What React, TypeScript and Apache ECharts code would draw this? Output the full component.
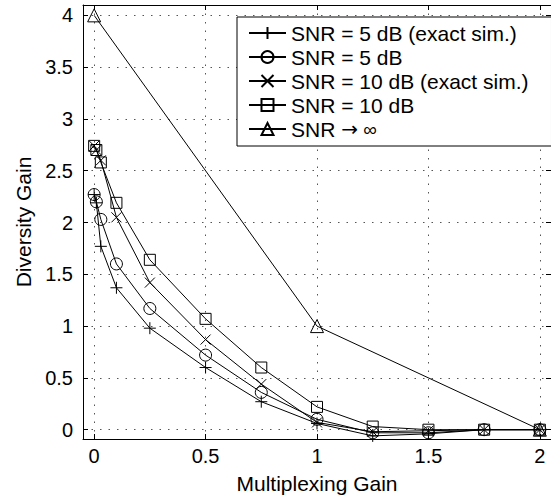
import React, { useEffect, useRef } from 'react';
import * as echarts from 'echarts';

const xPts = [0, 0.01, 0.03, 0.1, 0.25, 0.5, 0.75, 1, 1.25, 1.5, 1.75, 2];
const snr5Exact = [2.27, 2.19, 1.77, 1.37, 0.98, 0.6, 0.27, 0.06, -0.06, -0.04, 0.0, 0.0];
const snr5 = [2.27, 2.2, 2.03, 1.6, 1.17, 0.72, 0.36, 0.1, -0.03, -0.03, 0.0, 0.0];
const snr10Exact = [2.74, 2.7, 2.6, 2.05, 1.42, 0.87, 0.44, 0.07, -0.02, -0.01, 0.0, 0.0];
const snr10 = [2.74, 2.7, 2.58, 2.19, 1.64, 1.07, 0.6, 0.22, 0.03, 0.0, 0.0, 0.0];
const xInf = [0, 1, 2];
const snrInf = [4, 1, 0];

const xTicks = [0, 0.5, 1, 1.5, 2];
const yTicks = [0, 0.5, 1, 1.5, 2, 2.5, 3, 3.5, 4];
const seriesNames = [
  'SNR = 5 dB (exact sim.)',
  'SNR = 5 dB',
  'SNR = 10 dB (exact sim.)',
  'SNR = 10 dB',
  'SNR \u2192 \u221e',
];

const FONT = '"Liberation Sans", Arial, Helvetica, sans-serif';

const zip = (xs: number[], ys: number[]) => xs.map((x, i) => [x, ys[i]]);

export default function App() {
  const ref = useRef<HTMLDivElement>(null);
  useEffect(() => {
    document.body.style.margin = '0';
    const chart = echarts.init(ref.current!, undefined, { renderer: 'svg' });
    const gridLine = { show: true, lineStyle: { color: '#555', type: [1.5, 7], width: 1 } };
    const mkSeries = (name: string, data: number[][], symbol: string, size: number) => ({
      type: 'line',
      name,
      data,
      symbol,
      symbolSize: size,
      showSymbol: true,
      lineStyle: { color: '#000', width: 1 },
      itemStyle: { color: 'none', borderColor: '#000', borderWidth: 1 },
      emphasis: { disabled: true },
      clip: true,
    });
    const axisBase = {
      type: 'value',
      axisLine: { show: true, onZero: false, lineStyle: { color: '#000', width: 1 } },
    };
    chart.setOption({
      animation: false,
      textStyle: { fontFamily: FONT },
      grid: { left: 83, top: 5, right: -3, bottom: 63 },
      legend: {
        orient: 'vertical',
        left: 237,
        top: 17,
        padding: [4, 23, 5, 11],
        itemGap: 0,
        itemWidth: 37,
        itemHeight: 15,
        itemTextGap: 10,
        borderColor: '#000',
        borderWidth: 1,
        backgroundColor: '#fff',
        textStyle: {
          fontSize: 21,
          color: '#000',
          fontFamily: FONT,
          lineHeight: 24,
          rich: {
            a: { fontSize: 21, color: '#000', fontFamily: FONT, lineHeight: 24 },
            b: { fontSize: 20, color: '#000', fontFamily: '"DejaVu Sans", sans-serif', lineHeight: 24 },
            c: { fontSize: 19, color: '#000', fontFamily: FONT, lineHeight: 24 },
          },
        },
        formatter: (name: string) => {
          if (name === seriesNames[4]) {
            const parts = name.split(' ');
            return `{a|${parts[0]} }{b|${parts[1]}}{c| ${parts[2]}}`;
          }
          return name;
        },
        data: seriesNames,
      },
      xAxis: [
        {
          ...axisBase,
          min: -0.05,
          max: 2.05,
          position: 'bottom',
          axisTick: { show: true, inside: true, length: 5, customValues: xTicks, lineStyle: { color: '#000' } },
          axisLabel: { show: true, customValues: xTicks, fontSize: 20, color: '#000', margin: 7, fontFamily: FONT },
          splitLine: gridLine,
          name: 'Multiplexing Gain',
          nameLocation: 'middle',
          nameGap: 34,
          nameTextStyle: { fontSize: 21, color: '#000', fontFamily: FONT },
        },
        {
          ...axisBase,
          min: -0.05,
          max: 2.05,
          position: 'top',
          axisTick: { show: true, inside: true, length: 5, customValues: xTicks, lineStyle: { color: '#000' } },
          axisLabel: { show: false },
          splitLine: { show: false },
        },
      ],
      yAxis: [
        {
          ...axisBase,
          min: -0.09,
          max: 4.1,
          position: 'left',
          axisTick: { show: true, inside: true, length: 5, customValues: yTicks, lineStyle: { color: '#000' } },
          axisLabel: { show: true, customValues: yTicks, fontSize: 20, color: '#000', margin: 10, fontFamily: FONT },
          splitLine: gridLine,
          name: 'Diversity Gain',
          nameLocation: 'middle',
          nameGap: 44,
          nameTextStyle: { fontSize: 21, color: '#000', fontFamily: FONT },
        },
        {
          ...axisBase,
          min: -0.09,
          max: 4.1,
          position: 'right',
          axisTick: { show: true, inside: true, length: 5, customValues: yTicks, lineStyle: { color: '#000' } },
          axisLabel: { show: false },
          splitLine: { show: false },
        },
      ],
      series: [
        mkSeries(seriesNames[0], zip(xPts, snr5Exact), 'path://M0,6L12,6M6,0L6,12', 12),
        mkSeries(seriesNames[1], zip(xPts, snr5), 'circle', 12),
        mkSeries(seriesNames[2], zip(xPts, snr10Exact), 'path://M0,0L12,12M12,0L0,12', 10),
        mkSeries(seriesNames[3], zip(xPts, snr10), 'rect', 11),
        mkSeries(seriesNames[4], zip(xInf, snrInf), 'triangle', 13),
      ],
    });
    return () => chart.dispose();
  }, []);
  return <div ref={ref} style={{ width: 551, height: 502 }} />;
}
